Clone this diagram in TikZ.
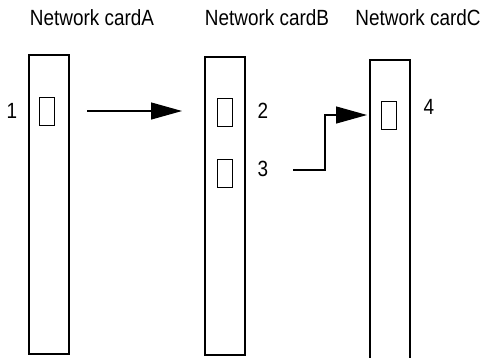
\documentclass[tikz,border=0pt]{standalone}
\usepackage{fontspec}
\setmainfont{Liberation Sans}
\newfontfamily\narrowsans{Liberation Sans}[FakeStretch=0.86]
\usetikzlibrary{positioning, arrows.meta}

\begin{document}
\begin{tikzpicture}[x=1pt,y=-1pt,
  card/.style={draw,line width=1.3pt,minimum width=40pt,inner sep=0pt},
  port/.style={draw,line width=1pt,minimum width=15pt,minimum height=28pt,inner sep=0pt},
  title/.style={font=\narrowsans\fontsize{22}{26}\selectfont},
  num/.style={font=\narrowsans\fontsize{22}{26}\selectfont},
  link/.style={line width=1.2pt,-{Triangle[length=31pt,width=17pt]}}]
\useasboundingbox (0,0) rectangle (494,357);

% cards
\node[card,minimum height=299pt] (CardA) at (49,204.5) {};
\node[card,minimum height=298pt] (CardB) at (225,206) {};
\node[card,minimum height=330pt] (CardC) at (390,225) {};

% ports
\node[port] (PortA) at (47,111) {};
\node[port] (PortBone) at (224.5,112.5) {};
\node[port] (PortBtwo) at (224.5,173) {};
\node[port] (PortC) at (388.5,115) {};

% titles
\node[title] (TitleA) at (92,18) {Network cardA};
\node[title] (TitleB) at (267,18) {Network cardB};
\node[title] (TitleC) at (418,18) {Network cardC};

% port numbers
\node[num] (NumA) at (12,111) {1};
\node[num] (NumBone) at (263,111) {2};
\node[num] (NumBtwo) at (263,169) {3};
\node[num] (NumC) at (429,107) {4};

% links
\coordinate (AStart) at (87,111);
\coordinate (AEnd) at (182,111);
\coordinate (BStart) at (293,170);
\coordinate (BCorner) at (325,115);
\coordinate (BEnd) at (367,115);
\draw[link] (AStart) -- (AEnd);
\draw[link] (BStart) -| (BCorner) -- (BEnd);
\end{tikzpicture}
\end{document}
